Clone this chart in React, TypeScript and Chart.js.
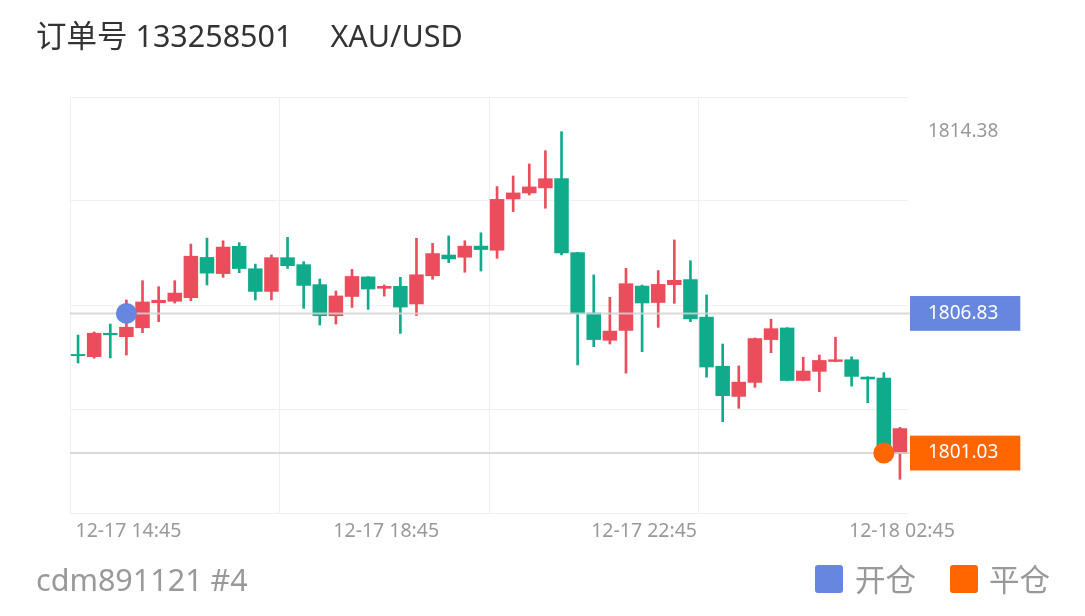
import React, { useEffect, useRef } from 'react';
import { Chart, registerables } from 'chart.js';

Chart.register(...registerables);

// ---------- data ----------
const CATEGORIES = [
  '12-17 14:00', '12-17 14:15', '12-17 14:30', '12-17 14:45',
  '12-17 15:00', '12-17 15:15', '12-17 15:30', '12-17 15:45',
  '12-17 16:00', '12-17 16:15', '12-17 16:30', '12-17 16:45',
  '12-17 17:00', '12-17 17:15', '12-17 17:30', '12-17 17:45',
  '12-17 18:00', '12-17 18:15', '12-17 18:30', '12-17 18:45',
  '12-17 19:00', '12-17 19:15', '12-17 19:30', '12-17 19:45',
  '12-17 20:00', '12-17 20:15', '12-17 20:30', '12-17 20:45',
  '12-17 21:00', '12-17 21:15', '12-17 21:30', '12-17 21:45',
  '12-17 22:00', '12-17 22:15', '12-17 22:30', '12-17 22:45',
  '12-17 23:00', '12-17 23:15', '12-17 23:30', '12-17 23:45',
  '12-18 00:00', '12-18 00:15', '12-18 00:30', '12-18 00:45',
  '12-18 01:00', '12-18 01:15', '12-18 01:30', '12-18 01:45',
  '12-18 02:00', '12-18 02:15', '12-18 02:30', '12-18 02:45',
];

const OPENS = [
  1805.14, 1805.02, 1806.02, 1805.85, 1806.22, 1807.26, 1807.32, 1807.47,
  1809.17, 1808.47, 1809.63, 1808.70, 1807.73, 1809.16, 1808.87, 1808.04,
  1806.72, 1807.52, 1808.36, 1807.86, 1807.97, 1807.21, 1808.38, 1809.27,
  1809.15, 1809.64, 1809.44, 1811.57, 1811.82, 1812.03, 1812.44, 1809.37,
  1806.86, 1805.70, 1806.11, 1807.98, 1807.27, 1808.01, 1808.25, 1806.69,
  1804.65, 1803.37, 1803.95, 1805.73, 1806.24, 1804.03, 1804.41, 1804.82,
  1804.92, 1804.20, 1804.16, 1800.99,
];

const CLOSES = [
  1805.06, 1806.02, 1805.93, 1806.27, 1807.32, 1807.39, 1807.69, 1809.22,
  1808.49, 1809.60, 1808.68, 1807.73, 1809.16, 1808.80, 1807.98, 1806.72,
  1807.57, 1808.38, 1807.83, 1807.97, 1807.08, 1808.45, 1809.33, 1809.08,
  1809.64, 1809.47, 1811.58, 1811.85, 1812.10, 1812.44, 1809.33, 1806.81,
  1805.73, 1806.11, 1808.08, 1807.25, 1808.05, 1808.22, 1806.59, 1804.59,
  1803.40, 1803.99, 1805.80, 1806.21, 1804.03, 1804.45, 1804.89, 1804.92,
  1804.20, 1804.09, 1800.98, 1802.06,
];

const HIGHS = [
  1805.93, 1806.06, 1806.39, 1807.39, 1808.19, 1807.94, 1808.19, 1809.71,
  1809.96, 1809.85, 1809.77, 1808.88, 1809.26, 1809.99, 1808.98, 1808.26,
  1807.76, 1808.66, 1808.36, 1808.01, 1808.33, 1809.95, 1809.74, 1810.05,
  1809.85, 1810.18, 1812.10, 1812.54, 1813.04, 1813.59, 1814.38, 1809.37,
  1808.43, 1807.50, 1808.70, 1808.01, 1808.61, 1809.88, 1809.02, 1807.60,
  1805.56, 1804.65, 1805.81, 1806.59, 1806.24, 1805.01, 1805.10, 1805.84,
  1805.03, 1804.20, 1804.37, 1802.10,
];

const LOWS = [
  1804.77, 1804.97, 1804.98, 1805.10, 1806.03, 1806.49, 1807.26, 1807.36,
  1808.01, 1808.33, 1808.52, 1807.39, 1807.39, 1808.70, 1807.04, 1806.35,
  1806.39, 1807.08, 1807.00, 1807.55, 1806.00, 1806.74, 1808.25, 1808.94,
  1808.54, 1808.59, 1809.12, 1811.06, 1811.75, 1811.20, 1809.26, 1804.69,
  1805.45, 1805.56, 1804.35, 1805.24, 1806.25, 1807.25, 1806.49, 1804.18,
  1802.33, 1802.89, 1803.76, 1805.20, 1804.03, 1804.03, 1803.58, 1804.82,
  1803.81, 1803.12, 1800.95, 1799.94,
];

const X_TICK_LABELS = ['12-17 14:45', '12-17 18:45', '12-17 22:45', '12-18 02:45'];

const ENTRY_INDEX = 3;
const ENTRY_PRICE = 1806.83;
const EXIT_INDEX = 50;
const EXIT_PRICE = 1801.03;

const Y_MIN = 1798.54;
const Y_MAX = 1815.82;
const Y_SPLITS = 4;
const X_SPLIT_EVERY = 13;

const TITLE_ORDER = '订单号 133258501';
const TITLE_SYMBOL = 'XAU/USD';
const ACCOUNT = 'cdm891121 #4';
const LEGEND_LABELS = ['开仓', '平仓'];

// ---------- style ----------
const UP = '#eb4d5c';
const DOWN = '#10ab8b';
const BLUE = '#6686e0';
const ORANGE = '#ff6600';
const GRID = '#f0f0f0';
const FONT = "'Noto Sans', 'Noto Sans CJK SC', sans-serif";

export default function App() {
  const canvasRef = useRef<HTMLCanvasElement>(null);

  useEffect(() => {
    const canvas = canvasRef.current;
    if (!canvas) return;

    const colors = OPENS.map((o, i) => (CLOSES[i] >= o ? UP : DOWN));
    const maxHigh = Math.max(...HIGHS);
    const markerData = CATEGORIES.map((_, i) =>
      i === ENTRY_INDEX ? ENTRY_PRICE : i === EXIT_INDEX ? EXIT_PRICE : null
    );
    const markerColors = CATEGORIES.map((_, i) =>
      i === ENTRY_INDEX ? BLUE : i === EXIT_INDEX ? ORANGE : 'transparent'
    );

    const priceLines = {
      id: 'priceLines',
      beforeDatasetDraw(chart: any, args: any) {
        if (args.index !== 2) return;
        const { ctx, chartArea } = chart;
        const ys = chart.scales.y;
        ctx.save();
        ctx.strokeStyle = 'rgba(212,212,212,0.85)';
        ctx.lineWidth = 2;
        [ENTRY_PRICE, EXIT_PRICE].forEach((p) => {
          const py = ys.getPixelForValue(p);
          ctx.beginPath();
          ctx.moveTo(chartArea.left, py);
          ctx.lineTo(chartArea.right + 2, py);
          ctx.stroke();
        });
        ctx.restore();
      },
    };

    Chart.defaults.font.family = FONT;

    const chart = new Chart(canvas, {
      type: 'bar',
      data: {
        labels: CATEGORIES,
        datasets: [
          {
            label: 'wick',
            data: LOWS.map((l, i) => [l, HIGHS[i]]) as any,
            backgroundColor: colors,
            barThickness: 2,
            grouped: false,
            borderWidth: 0,
            borderSkipped: false,
            order: 2,
          } as any,
          {
            label: 'body',
            data: OPENS.map((o, i) => [o, CLOSES[i]]) as any,
            backgroundColor: colors,
            barPercentage: 0.9,
            categoryPercentage: 1,
            grouped: false,
            borderWidth: 0,
            borderSkipped: false,
            order: 1,
          } as any,
          {
            type: 'line',
            label: 'markers',
            data: markerData as any,
            showLine: false,
            pointRadius: 10.5,
            pointHoverRadius: 10.5,
            pointBorderWidth: 0,
            pointBackgroundColor: markerColors,
            pointBorderColor: markerColors,
            order: 0,
          } as any,
        ],
      },
      options: {
        animation: false,
        responsive: false,
        devicePixelRatio: 1,
        events: [],
        layout: { padding: { left: 70, top: 97, right: 64, bottom: 53 } },
        plugins: {
          legend: { display: false },
          tooltip: { enabled: false },
        },
        scales: {
          x: {
            type: 'category',
            offset: true,
            border: { display: false },
            grid: {
              offset: true,
              drawTicks: false,
              lineWidth: 1,
              color: (ctx: any) => (ctx.index % X_SPLIT_EVERY === 0 ? GRID : 'rgba(0,0,0,0)'),
            },
            ticks: {
              autoSkip: false,
              maxRotation: 0,
              minRotation: 0,
              padding: 7,
              labelOffset: 2,
              color: '#999',
              font: { size: 19.5, family: FONT },
              callback: (_v: any, index: number) =>
                X_TICK_LABELS.includes(CATEGORIES[index]) ? CATEGORIES[index] : '',
            },
            afterFit: (scale: any) => {
              scale.height = 50;
            },
          },
          y: {
            type: 'linear',
            position: 'left',
            min: Y_MIN,
            max: Y_MAX,
            border: { display: false },
            grid: { color: GRID, drawTicks: false, lineWidth: 1 },
            ticks: { display: false },
            afterBuildTicks: (scale: any) => {
              const step = (Y_MAX - Y_MIN) / Y_SPLITS;
              scale.ticks = Array.from({ length: Y_SPLITS + 1 }, (_, i) => ({ value: Y_MIN + i * step }));
            },
            afterFit: (scale: any) => {
              scale.width = 0;
            },
          },
          y2: {
            type: 'linear',
            position: 'right',
            min: Y_MIN,
            max: Y_MAX,
            border: { display: false },
            grid: { display: false, drawTicks: false },
            afterBuildTicks: (scale: any) => {
              scale.ticks = [maxHigh, ENTRY_PRICE, EXIT_PRICE].map((v) => ({ value: v }));
            },
            afterFit: (scale: any) => {
              scale.width = 113;
            },
            ticks: {
              padding: 20,
              autoSkip: false,
              font: { size: 19, family: FONT },
              callback: (v: any) => Number(v).toFixed(2),
              color: (ctx: any) => {
                const v = ctx.tick && ctx.tick.value;
                return v === ENTRY_PRICE || v === EXIT_PRICE ? '#ffffff' : '#999999';
              },
              showLabelBackdrop: (ctx: any) => {
                const v = ctx.tick && ctx.tick.value;
                return v === ENTRY_PRICE || v === EXIT_PRICE;
              },
              backdropColor: (ctx: any) => {
                const v = ctx.tick && ctx.tick.value;
                return v === ENTRY_PRICE ? BLUE : v === EXIT_PRICE ? ORANGE : 'rgba(0,0,0,0)';
              },
              backdropPadding: { top: 6, bottom: 6, left: 18, right: 22 },
            } as any,
          },
        },
      } as any,
      plugins: [priceLines],
    });

    return () => chart.destroy();
  }, []);

  const text: React.CSSProperties = {
    position: 'absolute',
    fontFamily: FONT,
    fontSize: 30.5,
    lineHeight: '30px',
    whiteSpace: 'pre',
  };

  return (
    <div
      style={{
        position: 'absolute',
        left: 0,
        top: 0,
        width: 1085,
        height: 616,
        background: '#ffffff',
        overflow: 'hidden',
      }}
    >
      <canvas
        ref={canvasRef}
        width={1085}
        height={616}
        style={{ position: 'absolute', left: 0, top: 0, width: 1085, height: 616 }}
      />
      <div style={{ ...text, left: 36, top: 20, color: '#333333' }}>
        {TITLE_ORDER}
        <span style={{ marginLeft: 38 }}>{TITLE_SYMBOL}</span>
      </div>
      <div style={{ ...text, left: 36, top: 564, color: '#999999' }}>{ACCOUNT}</div>
      <div
        style={{
          position: 'absolute',
          left: 815,
          top: 565,
          width: 28,
          height: 28,
          borderRadius: 3,
          background: BLUE,
        }}
      />
      <div style={{ ...text, left: 855, top: 564, color: '#999999' }}>{LEGEND_LABELS[0]}</div>
      <div
        style={{
          position: 'absolute',
          left: 950,
          top: 565,
          width: 28,
          height: 28,
          borderRadius: 3,
          background: ORANGE,
        }}
      />
      <div style={{ ...text, left: 989, top: 564, color: '#999999' }}>{LEGEND_LABELS[1]}</div>
    </div>
  );
}
